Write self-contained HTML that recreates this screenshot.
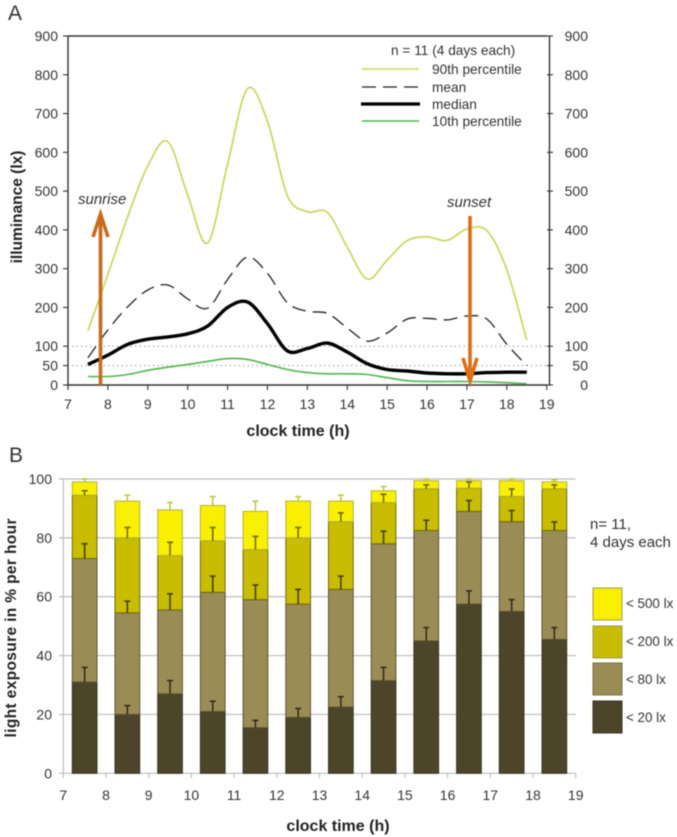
<!DOCTYPE html>
<html>
<head>
<meta charset="utf-8">
<style>
html,body{margin:0;padding:0;background:#fff;width:677px;height:837px;overflow:hidden}
svg{display:block;filter:blur(0.55px)}
text{font-family:"Liberation Sans",sans-serif;fill:#333}
.tick{font-size:14px}
.title{font-size:15.5px;font-weight:bold;fill:#222}
.title-x{font-size:16px;font-weight:bold;fill:#222}
.leg{font-size:13.7px}
.ann{font-size:15px;font-style:italic}
.panel{font-size:21px;fill:#333}
</style>
</head>
<body>
<svg id="fig" xmlns="http://www.w3.org/2000/svg" width="677" height="837" viewBox="0 0 677 837">
  <rect x="0" y="0" width="677" height="837" fill="#fff"/>

  <text class="panel" x="8" y="20">A</text>
  <text class="panel" x="9" y="462">B</text>

  <g id="chartA"></g>
  <g id="chartB"></g>

  <text class="title" x="0" y="0" text-anchor="middle" transform="translate(22,207) rotate(-90)">illuminance (lx)</text>
  <text class="title-x" x="298" y="436" text-anchor="middle">clock time (h)</text>
  <text class="title" x="0" y="0" text-anchor="middle" textLength="219" transform="translate(16,628) rotate(-90)">light exposure in % per hour</text>
  <text class="title-x" x="338" y="831" text-anchor="middle">clock time (h)</text>

  <text class="leg" x="391" y="55">n = 11 (4 days each)</text>
  <line x1="362" x2="419" y1="69" y2="69" stroke="#cdd65a" stroke-width="1.5"/>
  <text class="leg" x="432" y="74">90th percentile</text>
  <line x1="362" x2="419" y1="87" y2="87" stroke="#222" stroke-width="1.3" stroke-dasharray="14,7"/>
  <text class="leg" x="432" y="92">mean</text>
  <line x1="361" x2="420" y1="104" y2="104" stroke="#000" stroke-width="3.2"/>
  <text class="leg" x="432" y="109">median</text>
  <line x1="362" x2="419" y1="121" y2="121" stroke="#4db848" stroke-width="1.5"/>
  <text class="leg" x="432" y="126">10th percentile</text>

  <g id="annotations">
    <text class="ann" x="78" y="204">sunrise</text>
    <path d="M100.5 385V214M93 237L100.5 214L108 237" fill="none" stroke="#c96a1c" stroke-width="3.6"/>
    <text class="ann" x="447" y="207">sunset</text>
    <path d="M470 216V381M463 358L470 381L477 358" fill="none" stroke="#dc6e14" stroke-width="3.6"/>
  </g>

  <text x="590" y="529" style="font-size:15px">n= 11,</text>
  <text x="590" y="547" style="font-size:15px">4 days each</text>

  <rect x="593" y="588" width="29" height="32" fill="#f8f000" stroke="#a09a50"/>
  <text x="626" y="608" style="font-size:13.4px">&lt; 500 lx</text>
  <rect x="593" y="626" width="29" height="32" fill="#c8bd00" stroke="#a09a50"/>
  <text x="626" y="646" style="font-size:13.4px">&lt; 200 lx</text>
  <rect x="593" y="663" width="29" height="32" fill="#9a8c55" stroke="#77704a"/>
  <text x="626" y="684" style="font-size:13.4px">&lt; 80 lx</text>
  <rect x="593" y="701" width="29" height="32" fill="#4c452a" stroke="#3a3520"/>
  <text x="626" y="722" style="font-size:13.4px">&lt; 20 lx</text>
</svg>

<script>
// ---- Chart A data ----
const lineHours = [7.5,8,8.5,9,9.5,10,10.5,11,11.5,12,12.5,13,13.5,14,14.5,15,15.5,16,16.5,17,17.5,18,18.5];
const p90Values = [140,285,435,565,628,490,366,570,764,680,488,447,445,356,273,322,372,382,373,402,398,297,115];
const meanValues = [70,142,202,245,258,222,198,272,330,288,212,190,185,147,113,134,170,172,168,178,170,105,50];
const medianValues = [53,77,105,118,124,132,152,200,214,158,88,94,108,85,55,40,36,31,29,29,32,33,33];
const p10Values = [22,22,27,38,46,53,61,68,66,53,40,32,29,29,27,19,11,9,9,9,8,6,3];
const yTicksA = [0,50,100,200,300,400,500,600,700,800,900];
const guideValuesA = [50,100];
const xTicksA = [7,8,9,10,11,12,13,14,15,16,17,18,19];

// ---- Chart B data ----
const barHours = [7.5,8.5,9.5,10.5,11.5,12.5,13.5,14.5,15.5,16.5,17.5,18.5];
const under20 = [31,20,27,21,15.5,19,22.5,31.5,45,57.5,55,45.5];
const under80 = [73,54.5,55.5,61.5,59,57.5,62.5,78,82.5,89,85.5,82.5];
const under200 = [94.5,80,74,79,76,80,85.5,92,96.7,96.9,94.1,96.7];
const under500 = [99,92.5,89.5,91,89,92.5,92.5,96,99.4,99.4,99.4,99];
const err20 = [36,23,31.5,24.5,18,22,26,36,49.5,62,59,49.5];
const err80 = [78,58.5,61,67,64,62.5,67,82.3,86,92.7,89.3,85.4];
const err200 = [96,83.5,78.5,83.5,80.5,83.5,88.5,94.8,98,99,96.6,98];
const err500 = [100,94.5,92,94,92.5,94,94.5,97.4,100,100,100,99.6];
const yTicksB = [0,20,40,60,80,100];
const xTicksB = [7,8,9,10,11,12,13,14,15,16,17,18,19];

const NS = 'http://www.w3.org/2000/svg';
function mk(parent, tag, attrs, txt){
  const el = document.createElementNS(NS, tag);
  for (const k in attrs) el.setAttribute(k, attrs[k]);
  if (txt !== undefined) el.textContent = txt;
  parent.appendChild(el);
  return el;
}

// axis functions
const xA = h => 68 + (h - 7) * (546.7 - 68) / 12;
const yA = v => 385 - v * (385 - 36) / 900;
const xB = h => 63.3 + (h - 7) * (575.7 - 63.3) / 12;
const yB = v => 773.3 - v * (773.3 - 479) / 100;

function smooth(hours, vals){
  const p = hours.map((h,i)=>[xA(h), yA(vals[i])]);
  let d = 'M' + p[0][0].toFixed(1) + ' ' + p[0][1].toFixed(1);
  for (let i = 0; i < p.length - 1; i++){
    const a = p[Math.max(i-1,0)], b = p[i], c = p[i+1], e = p[Math.min(i+2,p.length-1)];
    const c1x = b[0] + (c[0]-a[0])/6, c1y = b[1] + (c[1]-a[1])/6;
    const c2x = c[0] - (e[0]-b[0])/6, c2y = c[1] - (e[1]-b[1])/6;
    d += 'C' + c1x.toFixed(1) + ' ' + c1y.toFixed(1) + ' ' + c2x.toFixed(1) + ' ' + c2y.toFixed(1) + ' ' + c[0].toFixed(1) + ' ' + c[1].toFixed(1);
  }
  return d;
}

// ---------- Chart A ----------
const A = document.getElementById('chartA');

guideValuesA.forEach(v => {
  const g = mk(A, 'line', {x1:72, x2:549, y1:yA(v), y2:yA(v), stroke:'#999', 'stroke-width':1, 'stroke-dasharray':'1.5,3'});
  
  
});

const frameA = mk(A, 'path', {d:'M68 36H547M68 36V385H547', fill:'none', stroke:'#333', 'stroke-width':1.4});



const rightAxisA = mk(A, 'line', {x1:549.5, x2:549.5, y1:36, y2:385, stroke:'#333', 'stroke-width':1.4});



yTicksA.forEach(v => {
  const tl = mk(A, 'line', {x1:63, x2:68, y1:yA(v), y2:yA(v), stroke:'#333', 'stroke-width':1.1});
  
  
  const tr = mk(A, 'line', {x1:547, x2:553, y1:yA(v), y2:yA(v), stroke:'#333', 'stroke-width':1.1});
  
  
  const lab = mk(A, 'text', {class:'tick', x:58, y:yA(v)+5, 'text-anchor':'end'}, v);
  
  
  const lab2 = mk(A, 'text', {class:'tick', x:588, y:yA(v)+5, 'text-anchor':'end'}, v);
  
  
});

xTicksA.forEach(h => {
  const t = mk(A, 'line', {x1:xA(h), x2:xA(h), y1:385, y2:390, stroke:'#333', 'stroke-width':1.1});
  
  
  const l = mk(A, 'text', {class:'tick', x:xA(h), y:409, 'text-anchor':'middle'}, h);
  
  
});

const line90 = mk(A, 'path', {d:smooth(lineHours,p90Values), fill:'none', stroke:'#cdd65a', 'stroke-width':1.7});


const lineMean = mk(A, 'path', {d:smooth(lineHours,meanValues), fill:'none', stroke:'#222', 'stroke-width':1.3, 'stroke-dasharray':'14,7'});


const lineMedian = mk(A, 'path', {d:smooth(lineHours,medianValues), fill:'none', stroke:'#000', 'stroke-width':3.4});


const line10 = mk(A, 'path', {d:smooth(lineHours,p10Values), fill:'none', stroke:'#4db848', 'stroke-width':1.6});



// ---------- Chart B ----------
const B = document.getElementById('chartB');

yTicksB.forEach(v => {
  const g = mk(B, 'line', {x1:59, x2:575.7, y1:yB(v), y2:yB(v), stroke:'#bdbdbd', 'stroke-width':1.2});
  
  
  const l = mk(B, 'text', {class:'tick', x:52, y:yB(v)+5, 'text-anchor':'end'}, v);
  
  
});
const axisB = mk(B, 'line', {x1:63.3, x2:63.3, y1:479, y2:773.3, stroke:'#bdbdbd', 'stroke-width':1.2});



xTicksB.forEach(h => {
  const t = mk(B, 'line', {x1:xB(h), x2:xB(h), y1:773.3, y2:778, stroke:'#bdbdbd', 'stroke-width':1.2});
  
  
  const l = mk(B, 'text', {class:'tick', x:xB(h), y:800, 'text-anchor':'middle'}, h);
  
  
});

const barW = 24.7;
const fills = ['#4c452a','#9a8c55','#c8bd00','#f8f000'];
const strokes = ['#3a3520','#5e5530','#6f6a10','#b5b040'];
const errCols = ['#2e2914','#3e3818','#6b6200','#c2c23e'];
const keys = ['20','80','200','500'];

barHours.forEach((h,i) => {
  const tops = [under20[i], under80[i], under200[i], under500[i]];
  const errs = [err20[i], err80[i], err200[i], err500[i]];
  const cx = xB(h);
  let base = 0;
  tops.forEach((top,s) => {
    const r = mk(B, 'rect', {x:cx-barW/2, y:yB(top), width:barW, height:yB(base)-yB(top), fill:fills[s], stroke:strokes[s], 'stroke-width':1});
    
    
    base = top;
  });
  tops.forEach((top,s) => {
    const e = mk(B, 'path', {d:'M'+cx+' '+yB(top)+'V'+yB(errs[s])+'M'+(cx-3)+' '+yB(errs[s])+'H'+(cx+3), fill:'none', stroke:errCols[s], 'stroke-width':1.5});
    
    
  });
});
</script>
</body>
</html>
